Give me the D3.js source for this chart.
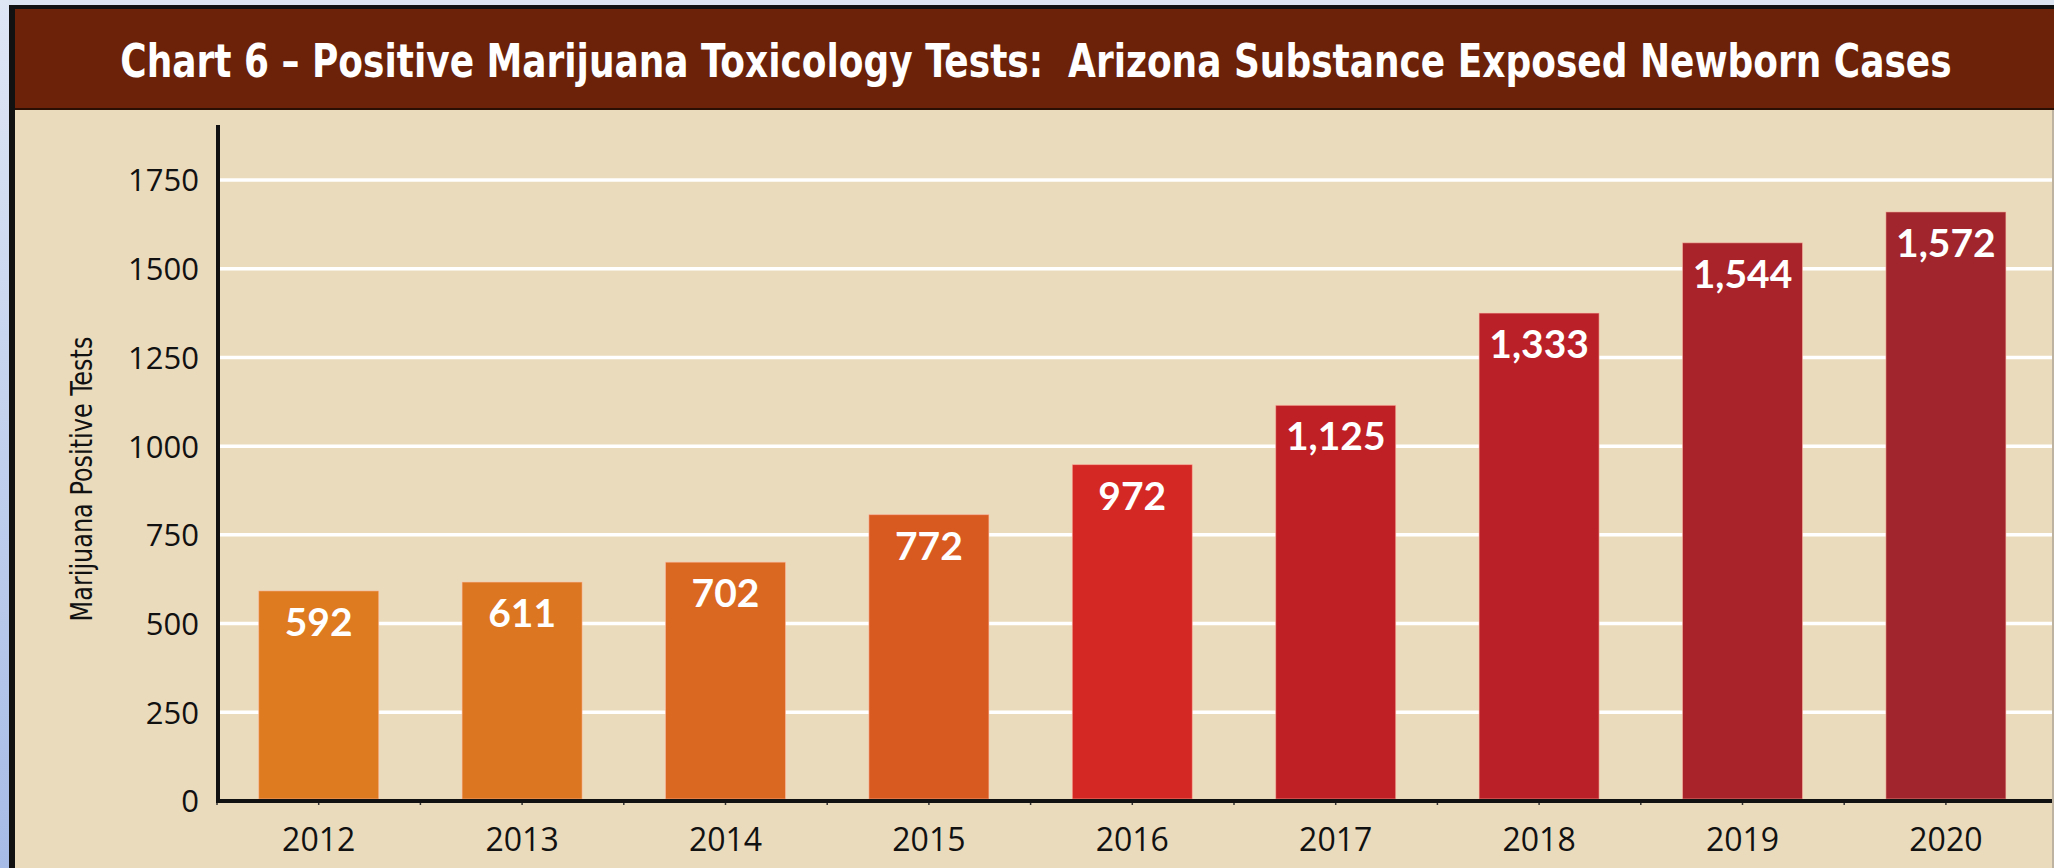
<!DOCTYPE html>
<html>
<head>
<meta charset="utf-8">
<script src="https://cdn.jsdelivr.net/npm/d3@7"></script>
<style>
  html, body { margin: 0; padding: 0; background: #EBDBBD; overflow: hidden; }
  svg { display: block; }
</style>
</head>
<body>
<script>
// ---- data ----
const titleText = "Chart 6 \u2013 Positive Marijuana Toxicology Tests:\u00A0 Arizona Substance Exposed Newborn Cases";
const yAxisTitle = "Marijuana Positive Tests";
const years = ["2012", "2013", "2014", "2015", "2016", "2017", "2018", "2019", "2020"];
// heights of the bars as drawn in the picture
const barValues = [592, 617, 673, 807, 948, 1115, 1375, 1573, 1660];
// labels printed on the bars
const valueLabels = ["592", "611", "702", "772", "972", "1,125", "1,333", "1,544", "1,572"];
const barColors = ["#DE7A20", "#DD7620", "#DB6820", "#D95A20", "#D42824", "#BF2026", "#BA2028", "#A8232A", "#A0252D"];
const yTicks = [0, 250, 500, 750, 1000, 1250, 1500, 1750];

// ---- layout ----
const W = 2054, H = 868;
const bg = "#EBDBBD";
const svg = d3.select("body").append("svg").attr("width", W).attr("height", H);

const defs = svg.append("defs");
const grad = defs.append("linearGradient").attr("id", "edge").attr("x1", 0).attr("y1", 0).attr("x2", 0).attr("y2", 1);
grad.append("stop").attr("offset", "0%").attr("stop-color", "#DFE7F5");
grad.append("stop").attr("offset", "100%").attr("stop-color", "#A6BBE6");

// background
svg.append("rect").attr("x", 0).attr("y", 0).attr("width", W).attr("height", H).attr("fill", bg);
// outer frame pieces
svg.append("rect").attr("x", 0).attr("y", 0).attr("width", W).attr("height", 5).attr("fill", "#DCE4F2");
svg.append("rect").attr("x", 0).attr("y", 0).attr("width", 9).attr("height", H).attr("fill", "url(#edge)");
svg.append("rect").attr("x", 9).attr("y", 5).attr("width", W - 9).attr("height", 4).attr("fill", "#111");
svg.append("rect").attr("x", 9).attr("y", 5).attr("width", 6).attr("height", H - 5).attr("fill", "#111");
svg.append("rect").attr("x", W - 2).attr("y", 108).attr("width", 2).attr("height", H - 108).attr("fill", "#BDB3A0");

// title band
svg.append("rect").attr("x", 15).attr("y", 9).attr("width", W - 15).attr("height", 100).attr("fill", "#6B2208");
svg.append("rect").attr("x", 15).attr("y", 108).attr("width", W - 15).attr("height", 2).attr("fill", "#2a0d03");

// title: drawn at full height, then squeezed horizontally to the reference width
const titleG = svg.append("g");
const title = titleG.append("text")
  .attr("x", 0).attr("y", 0)
  .attr("text-anchor", "middle")
  .attr("fill", "#FFFFFF")
  .style("font-family", "'Liberation Sans Narrow', 'DejaVu Sans Condensed', 'Liberation Sans', sans-serif")
  .style("font-weight", "700")
  .style("font-size", "47px")
  .text(titleText);
{
  const len = title.node().getComputedTextLength() || 1832;
  const sx = Math.min(1, 1832 / len);
  titleG.attr("transform", `translate(1036,77) scale(${sx.toFixed(4)},1)`);
}

// scales
const x = d3.scaleBand().domain(years).range([217, 2047.6]).paddingInner(0.41).paddingOuter(0.205);
const y = d3.scaleLinear().domain([0, 1750]).range([801, 180]);

// gridlines
svg.append("g").selectAll("line")
  .data(yTicks.filter(d => d > 0))
  .join("line")
  .attr("x1", 218).attr("x2", W - 2)
  .attr("y1", d => y(d)).attr("y2", d => y(d))
  .attr("stroke", "#FFFFFF").attr("stroke-width", 3.5);

// bars
svg.append("g").selectAll("rect")
  .data(years)
  .join("rect")
  .attr("x", d => x(d))
  .attr("width", x.bandwidth())
  .attr("y", (d, i) => y(barValues[i]))
  .attr("height", (d, i) => y(0) - y(barValues[i]) - 2)
  .attr("fill", (d, i) => barColors[i])
  .attr("stroke", "rgba(255,190,170,0.55)")
  .attr("stroke-width", 1);

// value labels
svg.append("g").selectAll("text")
  .data(years)
  .join("text")
  .attr("x", d => x(d) + x.bandwidth() / 2)
  .attr("y", (d, i) => y(barValues[i]) + 45)
  .attr("text-anchor", "middle")
  .attr("fill", "#FFFFFF")
  .style("font-family", "Lato, 'Open Sans', sans-serif")
  .style("font-weight", "700")
  .style("font-size", "39px")
  .text((d, i) => valueLabels[i]);

// y axis (tick labels)
const yAxis = d3.axisLeft(y).tickValues(yTicks).tickSize(0).tickPadding(0).tickFormat(d3.format("d"));
const gy = svg.append("g").attr("transform", "translate(199,0)").call(yAxis);
gy.select(".domain").remove();
gy.selectAll("text")
  .attr("fill", "#111")
  .style("font-family", "'Open Sans', 'Noto Sans', sans-serif")
  .style("font-size", "31px")
  .attr("dy", "0.35em");

// x axis labels
const xAxis = d3.axisBottom(x).tickSize(0).tickPadding(0);
const gx = svg.append("g").attr("transform", "translate(0,851)").call(xAxis);
gx.select(".domain").remove();
gx.selectAll("text")
  .attr("fill", "#111")
  .attr("dy", "0")
  .style("font-family", "'Open Sans', 'Noto Sans', sans-serif")
  .style("font-size", "32px");

// x axis small ticks (centers and boundaries)
const tickXs = [];
years.forEach(d => { tickXs.push(x(d) + x.bandwidth() / 2); tickXs.push(x(d) - x.step() * 0.205); });
svg.append("g").selectAll("line").data(tickXs).join("line")
  .attr("x1", d => d).attr("x2", d => d)
  .attr("y1", 799).attr("y2", 805)
  .attr("stroke", "#333").attr("stroke-width", 1.5);

// axis lines
svg.append("line").attr("x1", 216).attr("x2", W - 2).attr("y1", 801).attr("y2", 801)
  .attr("stroke", "#111").attr("stroke-width", 4);
svg.append("line").attr("x1", 218).attr("x2", 218).attr("y1", 125).attr("y2", 803)
  .attr("stroke", "#111").attr("stroke-width", 4);

// y axis title (condensed to reference length)
const ytG = svg.append("g");
const yt = ytG.append("text")
  .attr("x", 0).attr("y", 0)
  .attr("text-anchor", "middle")
  .attr("fill", "#111")
  .style("font-family", "'Liberation Sans Narrow', 'DejaVu Sans Condensed', 'Liberation Sans', sans-serif")
  .style("font-size", "31px")
  .text(yAxisTitle);
{
  const len = yt.node().getComputedTextLength() || 285;
  const sx = Math.min(1, 285 / len);
  ytG.attr("transform", `translate(92,479) rotate(-90) scale(${sx.toFixed(4)},1)`);
}
</script>
</body>
</html>
